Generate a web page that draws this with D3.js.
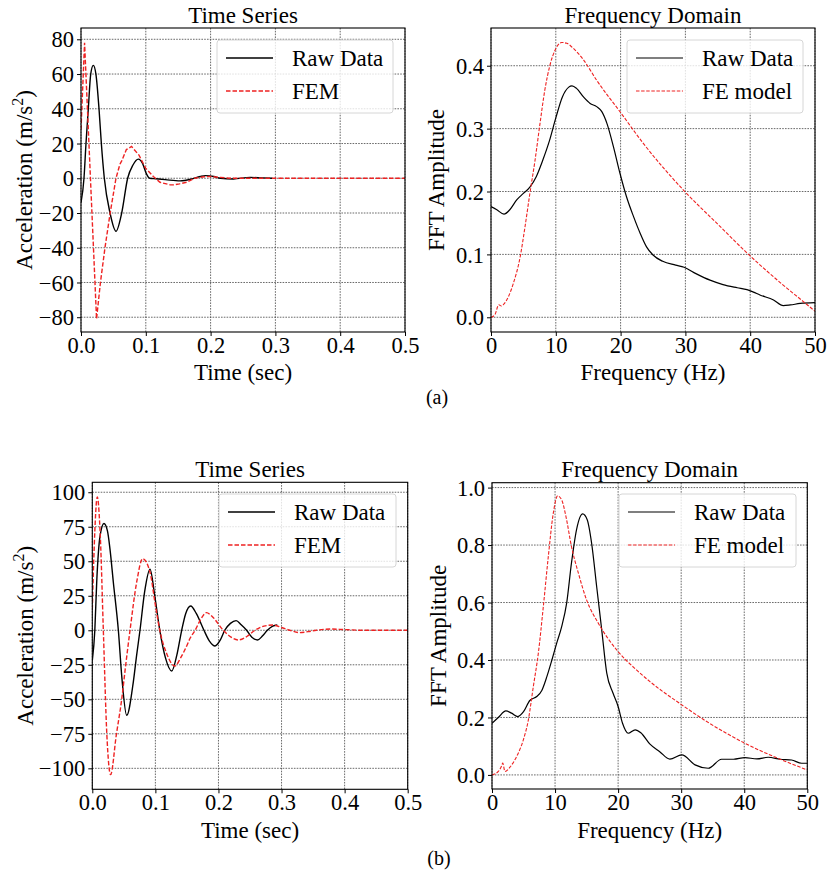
<!DOCTYPE html>
<html>
<head>
<meta charset="utf-8">
<script src="https://cdn.jsdelivr.net/npm/d3@7"></script>
<style>
  html, body { margin: 0; padding: 0; background: #fff; }
  svg { display: block; }
  text { font-family: "Liberation Serif", "Times New Roman", serif; fill: #000; }
</style>
</head>
<body>
<div id="visualization"></div>
<script>
// --- Constants ---
const SVG_WIDTH = 827;
const SVG_HEIGHT = 877;
const FONT = 22.5;
const RAW_COLOR = "#000000";
const FEM_COLOR = "#ee2222";

// --- Data: (a) time series ---
const timeA_raw = [0, 0.0046, 0.0077, 0.0113, 0.015, 0.019, 0.023, 0.0278, 0.0314, 0.036, 0.0448, 0.054, 0.0628, 0.072, 0.08, 0.0885, 0.095, 0.101, 0.106, 0.115, 0.13, 0.153, 0.17, 0.184, 0.192, 0.205, 0.215, 0.235, 0.261, 0.28, 0.295];
const accA_raw = [-14, 0, 20, 40, 60, 65, 60, 40, 20, 0, -20, -30.5, -20, 0, 7.5, 11, 8.5, 2.5, 0, -0.3, -0.8, -1.5, -0.5, 1, 1.5, 1, 0, -0.4, 0.5, 0.2, 0];
const timeA_fem = [0, 0.0055, 0.024, 0.030, 0.037, 0.045, 0.054, 0.060, 0.0628, 0.070, 0.078, 0.0895, 0.0997, 0.1116, 0.1219, 0.1375, 0.1425, 0.152, 0.163, 0.175, 0.19, 0.2, 0.215, 0.23, 0.26, 0.3, 0.5];
const accA_fem = [28, 78, -81, -60, -40, -20, 0, 8, 10, 16.5, 18.3, 13.3, 5.8, 1, -2.3, -3.8, -3.8, -3.2, -2.3, 0, 0.9, 1, 0.5, 0, 0, 0, 0];

// --- Data: (a) frequency domain ---
const freqA_raw = [0, 0.9, 2.0, 2.9, 4, 5, 6, 7, 8, 9, 10, 11, 12, 12.5, 13.2, 14.3, 15.3, 16.3, 17.1, 17.9, 18.9, 19.9, 20.9, 22, 23, 24, 25, 26.5, 28.5, 29.8, 31.7, 33.8, 35.8, 38, 39.5, 40.5, 41.5, 43.6, 45.1, 46.2, 47.7, 50];
const ampA_raw = [0.176, 0.171, 0.164, 0.171, 0.187, 0.197, 0.207, 0.224, 0.25, 0.28, 0.317, 0.35, 0.366, 0.368, 0.364, 0.35, 0.34, 0.335, 0.327, 0.308, 0.271, 0.229, 0.192, 0.16, 0.134, 0.112, 0.099, 0.089, 0.083, 0.0795, 0.069, 0.059, 0.052, 0.047, 0.044, 0.040, 0.0355, 0.0276, 0.0185, 0.0196, 0.022, 0.0233];
const freqA_fem = [0, 0.6, 1.2, 1.6, 1.9, 2.7, 3.45, 4.5, 5.25, 6, 6.8, 7.56, 8.3, 9.1, 9.9, 10.9, 11.7, 12.7, 14.3, 16.3, 19.9, 23.5, 29.9, 35, 40, 45, 48.2, 50];
const ampA_fem = [0, 0.004, 0.02, 0.018, 0.02, 0.033, 0.054, 0.096, 0.144, 0.197, 0.25, 0.308, 0.361, 0.401, 0.425, 0.437, 0.4356, 0.4277, 0.409, 0.377, 0.327, 0.2766, 0.2, 0.148, 0.0975, 0.052, 0.025, 0.0097];

// --- Data: (b) time series ---
const timeB_raw = [0, 0.004, 0.007, 0.0122, 0.0185, 0.024, 0.028, 0.0333, 0.0413, 0.047, 0.0545, 0.065, 0.0703, 0.0756, 0.083, 0.0915, 0.099, 0.107, 0.116, 0.126, 0.134, 0.1417, 0.148, 0.156, 0.165, 0.177, 0.186, 0.1945, 0.203, 0.21, 0.219, 0.228, 0.236, 0.2447, 0.253, 0.262, 0.27, 0.2775, 0.286, 0.2933];
const accB_raw = [-22, 0, 35, 68, 77.3, 72, 59, 35, 0, -35, -61.6, -37.5, -18, 0, 28, 44.2, 25, 0, -20, -29.5, -18, 0, 12, 17.6, 12, 0, -8, -11.4, -7, 0, 5, 7, 4, 0, -5, -7, -4, 0, 3, 3.8];
const timeB_fem = [0, 0.003, 0.0079, 0.0127, 0.0175, 0.023, 0.029, 0.038, 0.0466, 0.053, 0.0598, 0.0704, 0.0798, 0.0915, 0.0994, 0.107, 0.118, 0.131, 0.14, 0.15, 0.155, 0.163, 0.172, 0.181, 0.19, 0.2077, 0.22, 0.2315, 0.245, 0.258, 0.272, 0.287, 0.30, 0.313, 0.329, 0.342, 0.355, 0.377, 0.40, 0.43, 0.5];
const accB_fem = [15, 60, 96.6, 68, 0, -75, -104.6, -76, -50, -25, 0, 35, 51.9, 42, 20, 0, -17, -25.9, -20, -11, -5.8, 0, 8, 12.8, 10, 0, -5, -7, -4.5, 0, 3, 3.8, 2, 0, -1.7, -1, 0, 0.9, 0.5, 0, 0];

// --- Data: (b) frequency domain ---
const freqB_raw = [0, 1, 2.2, 3.1, 4.1, 5, 6, 7.1, 7.9, 8.7, 9.5, 10.25, 11.05, 11.84, 12.6, 13.4, 14.38, 15.1, 15.8, 16.6, 17.4, 18.2, 19.2, 20, 20.7, 21.6, 22.7, 23.6, 25.05, 26.6, 28.2, 30.1, 32.2, 34.3, 36.4, 38.3, 40.1, 42, 43.8, 45.7, 47.5, 49.1, 50];
const ampB_raw = [0.18, 0.2, 0.223, 0.215, 0.203, 0.22, 0.259, 0.273, 0.294, 0.342, 0.4, 0.458, 0.516, 0.598, 0.737, 0.853, 0.9085, 0.888, 0.806, 0.655, 0.505, 0.354, 0.284, 0.238, 0.18, 0.145, 0.157, 0.147, 0.107, 0.081, 0.055, 0.0696, 0.035, 0.0232, 0.0545, 0.0545, 0.0603, 0.0557, 0.0615, 0.0545, 0.052, 0.0406, 0.0406];
const freqB_fem = [0, 1.0, 1.5, 1.7, 2.06, 2.85, 3.9, 4.97, 5.76, 6.55, 7.35, 8.14, 8.93, 9.72, 10.41, 11.05, 11.73, 12.6, 13.7, 15, 16.86, 19.77, 22.9, 25.05, 30.1, 34.05, 40.1, 45.7, 50];
const ampB_fem = [0, 0.012, 0.03, 0.041, 0.012, 0.027, 0.064, 0.122, 0.191, 0.307, 0.424, 0.586, 0.76, 0.911, 0.971, 0.957, 0.899, 0.795, 0.702, 0.609, 0.528, 0.435, 0.3655, 0.3248, 0.2437, 0.1857, 0.1103, 0.0545, 0.0174];

// --- Tick values ---
const timeTicks = [0, 0.1, 0.2, 0.3, 0.4, 0.5];
const freqTicks = [0, 10, 20, 30, 40, 50];
const accTicksA = [-80, -60, -40, -20, 0, 20, 40, 60, 80];
const ampTicksA = [0, 0.1, 0.2, 0.3, 0.4];
const accTicksB = [-100, -75, -50, -25, 0, 25, 50, 75, 100];
const ampTicksB = [0, 0.2, 0.4, 0.6, 0.8, 1.0];

const zip = (xs, ys) => xs.map((x, i) => ({ x, y: ys[i] }));

const panels = [
    {
        id: "aTime", box: { left: 81, right: 405, top: 28, bottom: 332 },
        xDomain: [0, 0.5], yDomain: [-88.5, 86.5],
        xTicks: timeTicks, yTicks: accTicksA, xFmt: d3.format(".1f"), yFmt: d3.format("d"),
        title: "Time Series", titleY: 23, xLabel: "Time (sec)", xLabelY: 380, yLabelX: 32, accel: true,
        raw: zip(timeA_raw, accA_raw), fem: zip(timeA_fem, accA_fem), femCurve: d3.curveLinear,
        femName: "FEM", legend: { x: 217, y: 40, w: 176, h: 73 }, time: true
    },
    {
        id: "aFreq", box: { left: 491, right: 815, top: 28, bottom: 332 },
        xDomain: [0, 50], yDomain: [-0.0234, 0.46],
        xTicks: freqTicks, yTicks: ampTicksA, xFmt: d3.format("d"), yFmt: d3.format(".1f"),
        title: "Frequency Domain", titleY: 23, xLabel: "Frequency (Hz)", xLabelY: 380, yLabelX: 444, accel: false,
        raw: zip(freqA_raw, ampA_raw), fem: zip(freqA_fem, ampA_fem), femCurve: d3.curveMonotoneX,
        femName: "FE model", legend: { x: 627, y: 40, w: 176, h: 73 }, time: false
    },
    {
        id: "bTime", box: { left: 92.3, right: 407.7, top: 482.3, bottom: 789.3 },
        xDomain: [0, 0.5], yDomain: [-115.2, 107.2],
        xTicks: timeTicks, yTicks: accTicksB, xFmt: d3.format(".1f"), yFmt: d3.format("d"),
        title: "Time Series", titleY: 477, xLabel: "Time (sec)", xLabelY: 838, yLabelX: 33, accel: true,
        raw: zip(timeB_raw, accB_raw), fem: zip(timeB_fem, accB_fem), femCurve: d3.curveMonotoneX,
        femName: "FEM", legend: { x: 219, y: 494, w: 177, h: 73 }, time: true
    },
    {
        id: "bFreq", box: { left: 492, right: 807.3, top: 482.7, bottom: 789 },
        xDomain: [0, 50], yDomain: [-0.049, 1.017],
        xTicks: freqTicks, yTicks: ampTicksB, xFmt: d3.format("d"), yFmt: d3.format(".1f"),
        title: "Frequency Domain", titleY: 477, xLabel: "Frequency (Hz)", xLabelY: 838, yLabelX: 446, accel: false,
        raw: zip(freqB_raw, ampB_raw), fem: zip(freqB_fem, ampB_fem), femCurve: d3.curveMonotoneX,
        femName: "FE model", legend: { x: 619, y: 494, w: 177, h: 73 }, time: false
    }
];

const captions = [
    { text: "(a)", x: 437, y: 404 },
    { text: "(b)", x: 439, y: 865 }
];

// --- Initialization ---
const svg = d3.select("#visualization")
    .append("svg")
    .attr("width", SVG_WIDTH)
    .attr("height", SVG_HEIGHT)
    .attr("viewBox", `0 0 ${SVG_WIDTH} ${SVG_HEIGHT}`);

svg.append("rect").attr("width", SVG_WIDTH).attr("height", SVG_HEIGHT).attr("fill", "#fff");

panels.forEach(drawPanel);

svg.selectAll(".caption")
    .data(captions)
    .join("text")
    .attr("class", "caption")
    .attr("x", d => d.x)
    .attr("y", d => d.y)
    .attr("text-anchor", "middle")
    .style("font-size", "20px")
    .text(d => d.text);

// --- Drawing ---
function drawPanel(p) {
    const { left, right, top, bottom } = p.box;
    const xScale = d3.scaleLinear().domain(p.xDomain).range([left, right]);
    const yScale = d3.scaleLinear().domain(p.yDomain).range([bottom, top]);
    const g = svg.append("g").attr("class", p.id);

    // grid lines
    const grid = g.append("g").attr("class", "grid")
        .attr("stroke", "#444").attr("stroke-width", 0.8).attr("stroke-dasharray", "1.6,1.2");
    grid.selectAll(".gx").data(p.xTicks).join("line")
        .attr("x1", d => xScale(d)).attr("x2", d => xScale(d))
        .attr("y1", top).attr("y2", bottom);
    grid.selectAll(".gy").data(p.yTicks).join("line")
        .attr("x1", left).attr("x2", right)
        .attr("y1", d => yScale(d)).attr("y2", d => yScale(d));

    // clip
    g.append("clipPath").attr("id", `clip-${p.id}`)
        .append("rect").attr("x", left).attr("y", top)
        .attr("width", right - left).attr("height", bottom - top);

    const line = d3.line().x(d => xScale(d.x)).y(d => yScale(d.y));
    const lines = g.append("g").attr("clip-path", `url(#clip-${p.id})`);
    lines.append("path")
        .datum(p.raw)
        .attr("fill", "none")
        .attr("stroke", RAW_COLOR)
        .attr("stroke-width", p.time ? 1.4 : 1.2)
        .attr("d", line.curve(d3.curveMonotoneX));
    lines.append("path")
        .datum(p.fem)
        .attr("fill", "none")
        .attr("stroke", FEM_COLOR)
        .attr("stroke-width", p.time ? 1.4 : 1.1)
        .attr("stroke-dasharray", p.time ? "4.5,2" : "3.5,1.6")
        .attr("d", line.curve(p.femCurve));

    // axes
    const xAxis = d3.axisBottom(xScale).tickValues(p.xTicks).tickFormat(p.xFmt).tickSize(4).tickPadding(4);
    const yAxis = d3.axisLeft(yScale).tickValues(p.yTicks).tickFormat(p.yFmt).tickSize(4).tickPadding(3);
    const gx = g.append("g").attr("transform", `translate(0,${bottom})`).call(xAxis);
    const gy = g.append("g").attr("transform", `translate(${left},0)`).call(yAxis);
    [gx, gy].forEach(a => {
        a.select(".domain").remove();
        a.selectAll("text").style("font-size", `${FONT}px`).attr("fill", "#000");
        a.selectAll("line").attr("stroke", "#000").attr("stroke-width", 1);
    });
    gx.selectAll("text").attr("dy", null).attr("y", 21);
    gy.selectAll("text").attr("dy", "0.34em");

    // frame
    g.append("rect")
        .attr("x", left).attr("y", top)
        .attr("width", right - left).attr("height", bottom - top)
        .attr("fill", "none").attr("stroke", "#000").attr("stroke-width", 1.1);

    // title and labels
    g.append("text")
        .attr("x", (left + right) / 2).attr("y", p.titleY)
        .attr("text-anchor", "middle").style("font-size", `${FONT + 0.5}px`)
        .text(p.title);
    g.append("text")
        .attr("x", (left + right) / 2).attr("y", p.xLabelY)
        .attr("text-anchor", "middle").style("font-size", `${FONT + 0.5}px`)
        .text(p.xLabel);
    const yl = g.append("text")
        .attr("transform", `translate(${p.yLabelX},${(top + bottom) / 2}) rotate(-90)`)
        .attr("text-anchor", "middle").style("font-size", `${FONT + 0.5}px`);
    if (p.accel) {
        yl.append("tspan").text("Acceleration (m/s");
        yl.append("tspan").attr("dy", -9).style("font-size", "16px").text("2");
        yl.append("tspan").attr("dy", 9).text(")");
    } else {
        yl.text("FFT Amplitude");
    }

    // legend
    const L = p.legend;
    const lg = g.append("g").attr("class", "legend");
    lg.append("rect")
        .attr("x", L.x).attr("y", L.y).attr("width", L.w).attr("height", L.h)
        .attr("rx", 3).attr("fill", "#fff").attr("fill-opacity", 0.8)
        .attr("stroke", "#d6d6d6").attr("stroke-width", 1);
    const items = [
        { name: "Raw Data", color: RAW_COLOR, dash: null, w: p.time ? 1.4 : 1.2 },
        { name: p.femName, color: FEM_COLOR, dash: p.time ? "4.5,2" : "3.5,1.6", w: p.time ? 1.4 : 1.1 }
    ];
    items.forEach((it, i) => {
        const cy = L.y + 18 + i * 33;
        lg.append("line")
            .attr("x1", L.x + 9).attr("x2", L.x + 56)
            .attr("y1", cy).attr("y2", cy)
            .attr("stroke", it.color).attr("stroke-width", it.w)
            .attr("stroke-dasharray", it.dash);
        lg.append("text")
            .attr("x", L.x + 75).attr("y", cy + 8)
            .style("font-size", `${FONT + 0.5}px`)
            .text(it.name);
    });
}
</script>
</body>
</html>
